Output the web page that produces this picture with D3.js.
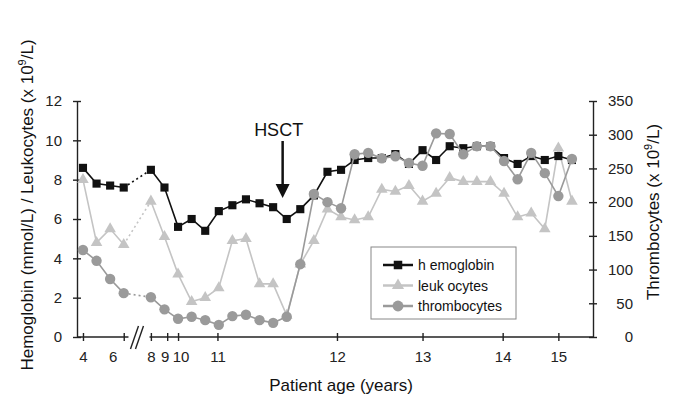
<!DOCTYPE html>
<html>
<head>
<meta charset="utf-8">
<script src="https://cdn.jsdelivr.net/npm/d3@7"></script>
<style>
  body { margin: 0; background: #fff; }
  svg { font-family: "Liberation Sans", Arial, sans-serif; }
</style>
</head>
<body>
<svg id="chart" width="685" height="415"></svg>
<script>
// visits are evenly spaced; index 4 is the axis break (no sample)
const hemoglobin = [8.6, 7.8, 7.7, 7.6, null, 8.5, 7.6, 5.6, 6.0, 5.4, 6.4, 6.7, 7.0, 6.8, 6.6, 6.0, 6.5, 7.2,
  8.4, 8.5, 9.0, 9.1, 9.1, 9.3, 8.8, 9.5, 9.0, 9.7, 9.6, 9.7, 9.7, 9.1, 8.8, 9.2, 9.0, 9.2, 9.0];
const leukocytes = [8.0, 4.8, 5.5, 4.7, null, 6.9, 5.1, 3.2, 1.8, 2.0, 2.5, 4.9, 5.0, 2.7, 2.7, 1.1, 3.7, 4.9,
  6.5, 6.1, 5.95, 6.1, 7.5, 7.4, 7.7, 6.9, 7.3, 8.1, 7.9, 7.9, 7.9, 7.3, 6.1, 6.3, 5.5, 9.6, 6.9];
const thrombocytes = [129, 113, 86, 65, null, 59, 41, 27, 30, 25, 18, 31, 33, 25, 21, 30, 108, 212,
  200, 191, 271, 273, 265, 268, 258, 254, 302, 301, 271, 283, 283, 261, 234, 273, 243, 209, 264];

// age ticks, placed on the visit index scale
const ageLabels = ["4", "6", "8", "9", "10", "11", "12", "13", "14", "15"];
const agePositions = [0, 3, 5, 6.2, 7, 9.9, 18.7, 25, 30.9, 35];

const leftTicks = [0, 2, 4, 6, 8, 10, 12];
const rightTicks = [0, 50, 100, 150, 200, 250, 300, 350];

const hsctIndex = 14.7;

const svg = d3.select("#chart");
const plotLeft = 77, plotRight = 593, plotTop = 101, plotBottom = 337;

const x = d3.scaleLinear().domain([-0.44, 37.55]).range([plotLeft, plotRight]);
const yL = d3.scaleLinear().domain([0, 12]).range([plotBottom, plotTop]);
const yR = d3.scaleLinear().domain([0, 350]).range([plotBottom, plotTop]);

const axisColor = "#222";

// left axis
const gL = svg.append("g").attr("transform", `translate(${plotLeft},0)`)
  .call(d3.axisLeft(yL).tickValues(leftTicks).tickSizeInner(4).tickSizeOuter(0).tickPadding(11));
gL.selectAll(".tick line").attr("x1", 4);

// right axis
const gR = svg.append("g").attr("transform", `translate(${plotRight},0)`)
  .call(d3.axisRight(yR).tickValues(rightTicks).tickSizeInner(4).tickSizeOuter(0));
gR.selectAll(".tick line").attr("x1", -4);
gR.selectAll(".tick text").attr("text-anchor", "end").attr("x", 40);

// bottom axis with a break
const labelNudge = { "6": -11, "9": -2.5, "10": 2.5 };
const gX = svg.append("g").attr("transform", `translate(0,${plotBottom})`)
  .call(d3.axisBottom(x).tickValues(agePositions)
    .tickFormat((d, i) => ageLabels[i]).tickSizeInner(4).tickSizeOuter(0).tickPadding(10));
gX.select(".domain").remove();
gX.selectAll(".tick line").attr("y1", -4);
gX.selectAll(".tick text").attr("dx", (d, i) => labelNudge[ageLabels[i]] || 0);

const breakA = 3.35, breakB = 4.9;
gX.append("line").attr("x1", plotLeft).attr("x2", x(breakA)).attr("y1", 0).attr("y2", 0);
gX.append("line").attr("x1", x(breakB)).attr("x2", plotRight).attr("y1", 0).attr("y2", 0);
[0, 5].forEach(off => {
  gX.append("line")
    .attr("x1", x(breakA) + 2 + off).attr("y1", 12)
    .attr("x2", x(breakA) + 10 + off).attr("y2", -11);
});
gX.selectAll("line").attr("stroke", axisColor).attr("stroke-width", 1.4);

[gL, gR, gX].forEach(g => {
  g.selectAll(".domain, .tick line").attr("stroke", axisColor).attr("stroke-width", 1.4);
  g.selectAll(".tick text").attr("font-size", 15).attr("fill", "#222")
    .attr("font-family", "Liberation Sans, Arial, sans-serif");
});

// series
const series = [
  { name: "leuk ocytes", values: leukocytes, y: yL, color: "#c4c4c4", symbol: d3.symbolTriangle, size: 58 },
  { name: "h emoglobin", values: hemoglobin, y: yL, color: "#111", symbol: d3.symbolSquare, size: 66 },
  { name: "thrombocytes", values: thrombocytes, y: yR, color: "#9a9a9a", symbol: d3.symbolCircle, size: 85 },
];

const line = d3.line().defined(d => d.v != null).x(d => x(d.i));

series.forEach(s => {
  const pts = s.values.map((v, i) => ({ i, v }));
  const g = svg.append("g");
  g.append("path")
    .datum(pts)
    .attr("fill", "none").attr("stroke", s.color).attr("stroke-width", 1.6)
    .attr("d", line.y(d => s.y(d.v)));
  // dotted link across the break
  g.append("path")
    .datum([pts[3], pts[5]])
    .attr("fill", "none").attr("stroke", s.color).attr("stroke-width", 1.6)
    .attr("stroke-dasharray", "2,3")
    .attr("d", line.y(d => s.y(d.v)));
  g.selectAll("path.mk")
    .data(pts.filter(d => d.v != null))
    .join("path").attr("class", "mk")
    .attr("transform", d => `translate(${x(d.i)},${s.y(d.v)})`)
    .attr("d", d3.symbol(s.symbol, s.size))
    .attr("fill", s.color);
});

// HSCT annotation
const hx = x(hsctIndex);
svg.append("text").attr("x", hx - 4).attr("y", 136).attr("text-anchor", "middle")
  .attr("font-size", 18).attr("fill", "#111").text("HSCT");
svg.append("line").attr("x1", hx).attr("x2", hx).attr("y1", 141).attr("y2", 186)
  .attr("stroke", "#111").attr("stroke-width", 2.5);
svg.append("path").attr("d", `M${hx - 7},184 L${hx + 7},184 L${hx},198 Z`).attr("fill", "#111");

// legend
const legend = svg.append("g");
legend.append("rect").attr("x", 371).attr("y", 247).attr("width", 145).attr("height", 72)
  .attr("fill", "#fff").attr("stroke", "#888").attr("stroke-width", 1);
const legendOrder = [series[1], series[0], series[2]];
legendOrder.forEach((s, k) => {
  const ly = 265 + k * 20.5;
  legend.append("line").attr("x1", 383).attr("x2", 413).attr("y1", ly).attr("y2", ly)
    .attr("stroke", s.color).attr("stroke-width", 2.5);
  legend.append("path").attr("transform", `translate(398,${ly})`)
    .attr("d", d3.symbol(s.symbol, s.size * 1.1)).attr("fill", s.color);
  legend.append("text").attr("x", 418).attr("y", ly + 5).attr("font-size", 14)
    .attr("fill", "#111").text(s.name);
});

// axis titles
const tL = svg.append("text")
  .attr("transform", "translate(33,205) rotate(-90)")
  .attr("text-anchor", "middle").attr("font-size", 17).attr("fill", "#111");
tL.append("tspan").text("Hemoglobin (mmol/L) / Leukocytes (x 10");
tL.append("tspan").attr("font-size", 11).attr("dy", -7).text("9");
tL.append("tspan").attr("dy", 7).text("/L)");

const tR = svg.append("text")
  .attr("transform", "translate(659,212) rotate(-90)")
  .attr("text-anchor", "middle").attr("font-size", 17).attr("fill", "#111");
tR.append("tspan").text("Thrombocytes (x 10");
tR.append("tspan").attr("font-size", 11).attr("dy", -7).text("9");
tR.append("tspan").attr("dy", 7).text("/L)");

svg.append("text").attr("x", 341).attr("y", 391).attr("text-anchor", "middle")
  .attr("font-size", 17).attr("fill", "#111").text("Patient age (years)");
</script>
</body>
</html>
